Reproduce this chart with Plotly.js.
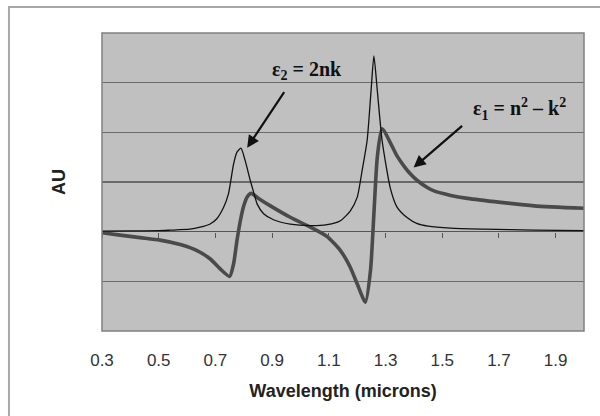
<!DOCTYPE html>
<html>
<head>
<meta charset="utf-8">
<script src="https://cdn.plot.ly/plotly-3.0.1.min.js"></script>
<style>
html,body{margin:0;padding:0;background:#fff;}
#chart{width:600px;height:416px;}
</style>
</head>
<body>
<div id="chart"></div>
<script>
// ε2 = 2nk (thin line)
var eps2Wavelength = [0.30,0.40,0.50,0.54,0.61,0.646,0.68,0.705,0.729,0.746,0.764,0.776,0.79,0.805,0.823,0.84,0.847,0.87,0.905,0.964,1.035,1.094,1.141,1.176,1.20,1.218,1.235,1.249,1.259,1.271,1.288,1.318,1.341,1.377,1.412,1.45,1.53,1.646,1.823,2.0];
var eps2Values     = [0.01,0.015,0.02,0.03,0.05,0.09,0.15,0.26,0.49,0.76,1.36,1.60,1.68,1.43,1.03,0.69,0.56,0.36,0.24,0.15,0.12,0.14,0.22,0.42,0.69,1.25,1.83,2.84,3.54,2.84,1.83,0.85,0.49,0.28,0.16,0.11,0.07,0.05,0.03,0.02];

// ε1 = n² − k² (thick line)
var eps1Wavelength = [0.30,0.364,0.434,0.505,0.576,0.635,0.682,0.717,0.75,0.764,0.776,0.788,0.80,0.812,0.826,0.852,0.894,0.964,1.035,1.094,1.141,1.176,1.20,1.229,1.247,1.259,1.271,1.288,1.341,1.365,1.388,1.412,1.447,1.471,1.53,1.589,1.706,1.824,2.0];
var eps1Values     = [-0.02,-0.07,-0.12,-0.17,-0.26,-0.38,-0.55,-0.75,-0.90,-0.65,-0.18,0.22,0.52,0.70,0.77,0.67,0.52,0.29,0.09,-0.10,-0.38,-0.72,-1.05,-1.42,-0.78,0.36,1.5,2.07,1.52,1.32,1.16,1.03,0.89,0.82,0.73,0.67,0.59,0.52,0.47];

var xTickVals = [0.3,0.5,0.7,0.9,1.1,1.3,1.5,1.7,1.9];
var xTickText = ["0.3","0.5","0.7","0.9","1.1","1.3","1.5","1.7","1.9"];

var traces = [
  {x: eps2Wavelength, y: eps2Values, xaxis: 'x2', yaxis: 'y', mode: 'lines', type: 'scatter',
   line: {color: '#111111', width: 1.3, shape: 'spline', smoothing: 0.6}, hoverinfo: 'skip', name: 'ε2'},
  {x: eps1Wavelength, y: eps1Values, xaxis: 'x', yaxis: 'y', mode: 'lines', type: 'scatter',
   line: {color: '#4a4a4a', width: 3.6, shape: 'spline', smoothing: 0.6}, hoverinfo: 'skip', name: 'ε1'}
];

var serif = 'Liberation Serif, Times New Roman, serif';
var sans = 'Liberation Sans, Arial, sans-serif';

var layout = {
  width: 600, height: 416,
  margin: {l: 102, r: 16, t: 33, b: 85, pad: 0},
  paper_bgcolor: '#ffffff',
  plot_bgcolor: '#c0c0c0',
  showlegend: false,
  xaxis: {
    range: [0.3, 2.0], tickvals: xTickVals, ticktext: xTickText,
    ticks: '', showgrid: false, zeroline: false, showline: false,
    tickfont: {family: sans, size: 17, color: '#333333'},
    ticklabelstandoff: 17,
    title: {text: '<b>Wavelength (microns)</b>', font: {family: sans, size: 18, color: '#222222'}, standoff: 15},
    fixedrange: true
  },
  xaxis2: {
    range: [0.3, 2.0], overlaying: 'x', anchor: 'free', position: 1/3, side: 'bottom',
    tickvals: xTickVals, ticks: 'outside', ticklen: 5, tickwidth: 1, tickcolor: '#555555',
    showticklabels: false, showgrid: false, zeroline: false, showline: false, fixedrange: true
  },
  yaxis: {
    range: [-2, 4], dtick: 1, tick0: 0, showticklabels: false, ticks: '',
    showgrid: true, gridcolor: '#6a6a6a', gridwidth: 1.5,
    zeroline: true, zerolinecolor: '#555555', zerolinewidth: 1.5,
    showline: false,
    title: {text: '<b>AU</b>', font: {family: sans, size: 18, color: '#222222'}, standoff: 30},
    fixedrange: true
  },
  shapes: [
    {type: 'rect', xref: 'paper', yref: 'paper', x0: 0, x1: 1, y0: 0, y1: 1,
     line: {color: '#808080', width: 1.5}, layer: 'above'},
    {type: 'rect', xref: 'paper', yref: 'paper', x0: -0.193, x1: 1.2, y0: -0.5, y1: 1.087,
     line: {color: '#a8a8a8', width: 2}, layer: 'above'}
  ],
  annotations: [
    {x: 1.024, y: 3.24, xref: 'x', yref: 'y', showarrow: false,
     text: '<b>ε<sub>2</sub> = 2nk</b>', font: {family: serif, size: 20, color: '#111111'}},
    {x: 1.773, y: 2.47, xref: 'x', yref: 'y', showarrow: false,
     text: '<b>ε<sub>1</sub> = n<sup>2</sup> – k<sup>2</sup></b>', font: {family: serif, size: 20, color: '#111111'}},
    {x: 0.812, y: 1.69, xref: 'x', yref: 'y', text: '', showarrow: true,
     ax: 38, ay: -57, arrowhead: 2, arrowsize: 1.1, arrowwidth: 2.2, arrowcolor: '#111111', standoff: 0},
    {x: 1.399, y: 1.29, xref: 'x', yref: 'y', text: '', showarrow: true,
     ax: 50, ay: -43, arrowhead: 2, arrowsize: 1.1, arrowwidth: 2.2, arrowcolor: '#111111', standoff: 0}
  ]
};

Plotly.newPlot('chart', traces, layout, {displayModeBar: false, staticPlot: true});
</script>
</body>
</html>
